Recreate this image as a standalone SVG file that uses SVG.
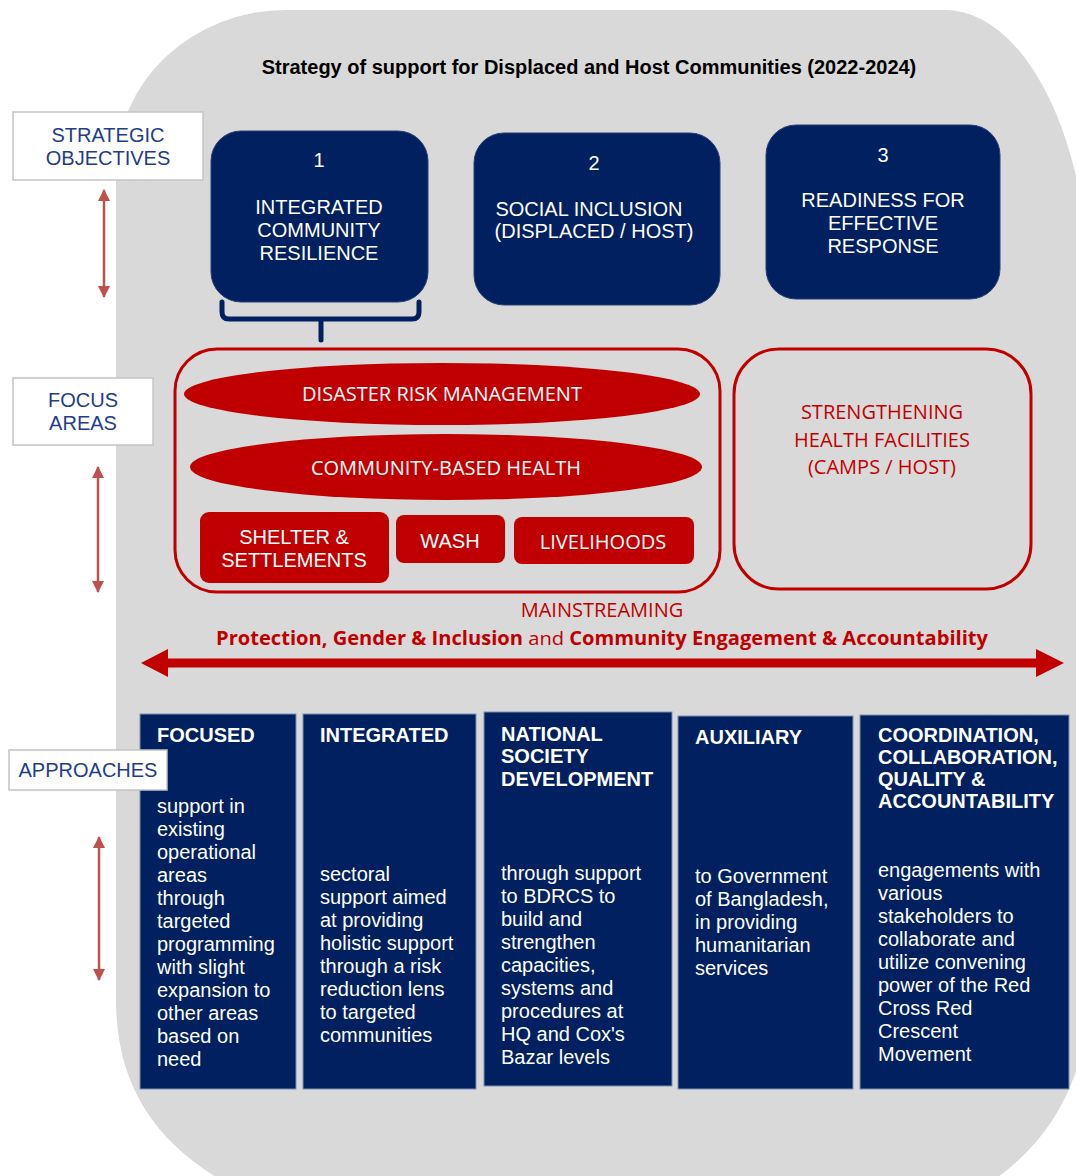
<svg xmlns="http://www.w3.org/2000/svg" width="1076" height="1176" viewBox="0 0 1076 1176">
  <defs>
    <marker id="tip" viewBox="0 0 12 12" refX="11" refY="6" markerWidth="12" markerHeight="12" markerUnits="userSpaceOnUse" orient="auto-start-reverse">
      <path d="M0,0 L12,6 L0,12 Z" fill="#c0504d"/>
    </marker>
  </defs>
  <style>
    .sans { font-family: "Liberation Sans", Arial, sans-serif; }
    .open { font-family: "Open Sans", "Noto Sans", sans-serif; }
    .label-box { fill: #ffffff; stroke: #c4c4c4; stroke-width: 1.5; }
    .label-text { fill: #1f3d8c; font-size: 20px; text-anchor: middle; }
    .objective { fill: #002060; stroke: #2a3f73; stroke-width: 1; }
    .obj-text { fill: #ffffff; font-size: 20px; text-anchor: middle; }
    .focus-frame { fill: none; stroke: #c00000; stroke-width: 3; }
    .focus-fill { fill: #c00000; }
    .focus-text { fill: #ffffff; font-size: 20px; text-anchor: middle; }
    .red-text { fill: #c00000; text-anchor: middle; }
    .column { fill: #002060; stroke: #7f8fb0; stroke-width: 1; }
    .col-head { fill: #ffffff; font-size: 20px; font-weight: bold; }
    .col-body { fill: #ffffff; font-size: 20px; }
    .side-arrow { stroke: #c0504d; stroke-width: 2.5; fill: none; marker-start: url(#tip); marker-end: url(#tip); }
  </style>

  <!-- background panel -->
  <path id="panel" d="M116,170 A170,160 0 0 1 286,10 L943,10 A145,290 0 0 1 1090,300 L1090,980 C1090,1090 1040,1160 960,1200 L260,1200 C170,1160 116,1100 116,1000 Z" fill="#d9d9d9"/>

  <text class="sans" x="589" y="74" font-size="20" font-weight="bold" fill="#000000" text-anchor="middle">Strategy of support for Displaced and Host Communities (2022-2024)</text>

  <!-- row labels -->
  <g id="label-objectives">
    <rect class="label-box" x="13" y="112" width="190" height="68"/>
    <text class="sans label-text" x="108" y="142">STRATEGIC</text>
    <text class="sans label-text" x="108" y="165">OBJECTIVES</text>
  </g>
  <g id="label-focus">
    <rect class="label-box" x="13" y="378" width="140" height="67"/>
    <text class="sans label-text" x="83" y="407">FOCUS</text>
    <text class="sans label-text" x="83" y="430">AREAS</text>
  </g>

  <!-- strategic objectives -->
  <g id="objective-1">
    <rect class="objective" x="211" y="131" width="217" height="171" rx="30"/>
    <text class="sans obj-text" x="319" y="167">1</text>
    <text class="sans obj-text" x="319" y="214">INTEGRATED</text>
    <text class="sans obj-text" x="319" y="237">COMMUNITY</text>
    <text class="sans obj-text" x="319" y="260">RESILIENCE</text>
  </g>
  <g id="objective-2">
    <rect class="objective" x="474" y="133" width="246" height="172" rx="30"/>
    <text class="sans obj-text" x="594" y="170">2</text>
    <text class="sans obj-text" x="589" y="216" font-size="18.5">SOCIAL INCLUSION</text>
    <text class="sans obj-text" x="594" y="238" font-size="18.5">(DISPLACED / HOST)</text>
  </g>
  <g id="objective-3">
    <rect class="objective" x="766" y="125" width="234" height="174" rx="30"/>
    <text class="sans obj-text" x="883" y="162">3</text>
    <text class="sans obj-text" x="883" y="207">READINESS FOR</text>
    <text class="sans obj-text" x="883" y="230">EFFECTIVE</text>
    <text class="sans obj-text" x="883" y="253">RESPONSE</text>
  </g>

  <!-- focus areas under objective 1 -->
  <g id="focus-integrated">
    <rect class="focus-frame" x="175" y="349" width="545" height="243" rx="42"/>
  </g>
  <g id="focus-drm">
    <ellipse class="focus-fill" cx="442" cy="394" rx="258" ry="31"/>
    <text class="open focus-text" x="442" y="401">DISASTER RISK MANAGEMENT</text>
  </g>
  <g id="focus-cbh">
    <ellipse class="focus-fill" cx="446" cy="467" rx="256" ry="33"/>
    <text class="open focus-text" x="446" y="475">COMMUNITY-BASED HEALTH</text>
  </g>
  <g id="focus-shelter">
    <rect class="focus-fill" x="200" y="512" width="189" height="71" rx="9"/>
    <text class="sans focus-text" x="294" y="544">SHELTER &amp;</text>
    <text class="sans focus-text" x="294" y="567">SETTLEMENTS</text>
  </g>
  <g id="focus-wash">
    <rect class="focus-fill" x="396" y="515" width="109" height="48" rx="8"/>
    <text class="sans focus-text" x="450" y="548" font-size="19">WASH</text>
  </g>
  <g id="focus-livelihoods">
    <rect class="focus-fill" x="514" y="517" width="180" height="47" rx="8"/>
    <text class="open focus-text" x="603" y="549">LIVELIHOODS</text>
  </g>
  <g id="focus-health-facilities">
    <rect class="focus-frame" x="734" y="349" width="297" height="240" rx="45"/>
    <text class="open red-text" x="882" y="419" font-size="20">STRENGTHENING</text>
    <text class="open red-text" x="882" y="447" font-size="20">HEALTH FACILITIES</text>
    <text class="open red-text" x="882" y="474" font-size="20">(CAMPS / HOST)</text>
  </g>

  <!-- mainstreaming -->
  <g id="mainstreaming">
    <text class="open red-text" x="602" y="617" font-size="20">MAINSTREAMING</text>
    <text class="open red-text" x="602" y="645" font-size="19" textLength="772" lengthAdjust="spacingAndGlyphs"><tspan font-weight="bold">Protection, Gender &amp; Inclusion</tspan> and <tspan font-weight="bold">Community Engagement &amp; Accountability</tspan></text>
  </g>

  <!-- approaches -->
  <g id="approach-focused">
    <rect class="column" x="140" y="714" width="156" height="375"/>
    <text class="sans col-head" x="157" y="742">FOCUSED</text>
    <text class="sans col-body" x="157" y="813">support in</text>
    <text class="sans col-body" x="157" y="836">existing</text>
    <text class="sans col-body" x="157" y="859">operational</text>
    <text class="sans col-body" x="157" y="882">areas</text>
    <text class="sans col-body" x="157" y="905">through</text>
    <text class="sans col-body" x="157" y="928">targeted</text>
    <text class="sans col-body" x="157" y="951">programming</text>
    <text class="sans col-body" x="157" y="974">with slight</text>
    <text class="sans col-body" x="157" y="997">expansion to</text>
    <text class="sans col-body" x="157" y="1020">other areas</text>
    <text class="sans col-body" x="157" y="1043">based on</text>
    <text class="sans col-body" x="157" y="1066">need</text>
  </g>
  <g id="approach-integrated">
    <rect class="column" x="303" y="714" width="173" height="375"/>
    <text class="sans col-head" x="320" y="742">INTEGRATED</text>
    <text class="sans col-body" x="320" y="881">sectoral</text>
    <text class="sans col-body" x="320" y="904">support aimed</text>
    <text class="sans col-body" x="320" y="927">at providing</text>
    <text class="sans col-body" x="320" y="950">holistic support</text>
    <text class="sans col-body" x="320" y="973">through a risk</text>
    <text class="sans col-body" x="320" y="996">reduction lens</text>
    <text class="sans col-body" x="320" y="1019">to targeted</text>
    <text class="sans col-body" x="320" y="1042">communities</text>
  </g>
  <g id="approach-nsd">
    <rect class="column" x="484" y="712" width="188" height="374"/>
    <text class="sans col-head" x="501" y="741">NATIONAL</text>
    <text class="sans col-head" x="501" y="763">SOCIETY</text>
    <text class="sans col-head" x="501" y="786">DEVELOPMENT</text>
    <text class="sans col-body" x="501" y="880">through support</text>
    <text class="sans col-body" x="501" y="903">to BDRCS to</text>
    <text class="sans col-body" x="501" y="926">build and</text>
    <text class="sans col-body" x="501" y="949">strengthen</text>
    <text class="sans col-body" x="501" y="972">capacities,</text>
    <text class="sans col-body" x="501" y="995">systems and</text>
    <text class="sans col-body" x="501" y="1018">procedures at</text>
    <text class="sans col-body" x="501" y="1041">HQ and Cox's</text>
    <text class="sans col-body" x="501" y="1064">Bazar levels</text>
  </g>
  <g id="approach-auxiliary">
    <rect class="column" x="678" y="716" width="175" height="373"/>
    <text class="sans col-head" x="695" y="744">AUXILIARY</text>
    <text class="sans col-body" x="695" y="883">to Government</text>
    <text class="sans col-body" x="695" y="906">of Bangladesh,</text>
    <text class="sans col-body" x="695" y="929">in providing</text>
    <text class="sans col-body" x="695" y="952">humanitarian</text>
    <text class="sans col-body" x="695" y="975">services</text>
  </g>
  <g id="approach-coordination">
    <rect class="column" x="860" y="715" width="209" height="374"/>
    <text class="sans col-head" x="878" y="742" font-size="18.5">COORDINATION,</text>
    <text class="sans col-head" x="878" y="764" font-size="18.5">COLLABORATION,</text>
    <text class="sans col-head" x="878" y="786" font-size="18.5">QUALITY &amp;</text>
    <text class="sans col-head" x="878" y="808" font-size="18.5">ACCOUNTABILITY</text>
    <text class="sans col-body" x="878" y="877">engagements with</text>
    <text class="sans col-body" x="878" y="900">various</text>
    <text class="sans col-body" x="878" y="923">stakeholders to</text>
    <text class="sans col-body" x="878" y="946">collaborate and</text>
    <text class="sans col-body" x="878" y="969">utilize convening</text>
    <text class="sans col-body" x="878" y="992">power of the Red</text>
    <text class="sans col-body" x="878" y="1015">Cross Red</text>
    <text class="sans col-body" x="878" y="1038">Crescent</text>
    <text class="sans col-body" x="878" y="1061">Movement</text>
  </g>

  <!-- approaches label sits over the first column -->
  <g id="label-approaches">
    <rect class="label-box" x="9" y="750" width="158" height="40"/>
    <text class="sans label-text" x="88" y="777" font-size="18">APPROACHES</text>
  </g>

  <!-- connectors -->
  <g id="connectors">
    <path d="M222,302 L222,312 Q222,319 229,319 L412,319 Q419,319 419,312 L419,302 M321,319 L321,340" fill="none" stroke="#002060" stroke-width="5" stroke-linecap="round" stroke-linejoin="round"/>
    <line class="side-arrow" x1="104" y1="190" x2="104" y2="297"/>
    <line class="side-arrow" x1="98" y1="467" x2="98" y2="592"/>
    <line class="side-arrow" x1="99" y1="837" x2="99" y2="980"/>
    <polygon points="141,663 168,649 168,658.5 1036,658.5 1036,649 1064,663 1036,677 1036,667.5 168,667.5 168,677" fill="#c00000"/>
  </g>
</svg>
